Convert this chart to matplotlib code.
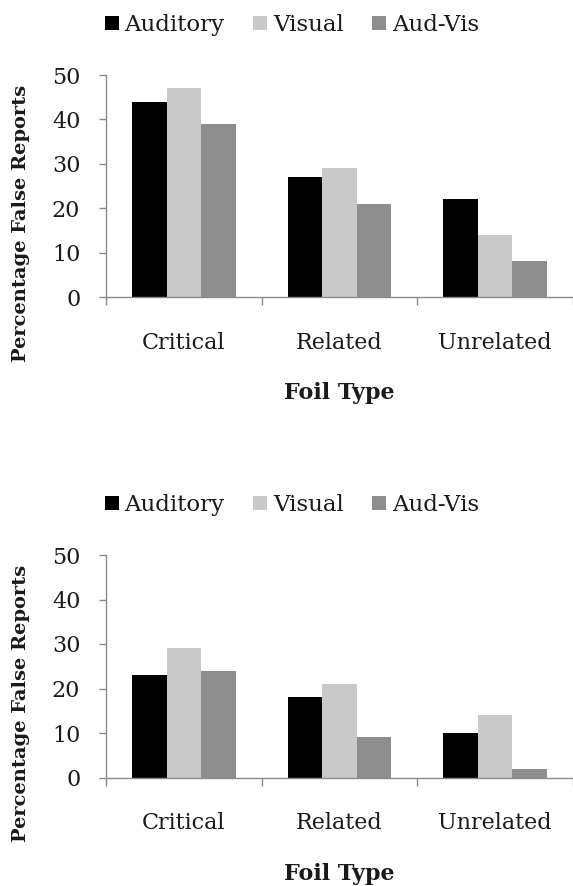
import matplotlib
matplotlib.use("Agg")
import matplotlib.pyplot as plt
import numpy as np
from matplotlib.patches import Patch

categories = ["Critical", "Related", "Unrelated"]
series_names = ["Auditory", "Visual", "Aud-Vis"]
top_auditory = [44, 27, 22]
top_visual = [47, 29, 14]
top_audvis = [39, 21, 8]
bottom_auditory = [23, 18, 10]
bottom_visual = [29, 21, 14]
bottom_audvis = [24, 9, 2]
yticks = [0, 10, 20, 30, 40, 50]
xlabel_text = "Foil Type"
ylabel_text = "Percentage False Reports"

colors = ["#000000", "#c9c9c9", "#8e8e8e"]
axis_color = "#8a8a8a"
text_color = "#1a1a1a"

plt.rcParams["font.family"] = ["DejaVu Serif"]
FS = 16
LFS = 16.5
YFS = 14

W, H = 573, 886
fig = plt.figure(figsize=(W / 100, H / 100), dpi=100)


def make_panel(ax_rect, data, legend_y):
    ax = fig.add_axes(ax_rect)
    x = np.arange(len(categories))
    bw = 0.222
    offsets = [-bw, 0, bw]
    for vals, off, col in zip(data, offsets, colors):
        ax.bar(x + off, vals, width=bw, color=col, edgecolor="none")
    ax.set_xlim(-0.5, len(categories) - 0.5)
    ax.set_ylim(0, 50)
    ax.set_yticks(yticks)
    ax.set_yticklabels([str(t) for t in yticks], fontsize=FS, color=text_color)
    ax.set_xticks(x)
    ax.set_xticklabels(categories, fontsize=FS, color=text_color)
    ax.set_xticks(np.arange(-0.5, len(categories)), minor=True)
    ax.tick_params(axis="x", which="major", length=0, pad=25)
    ax.tick_params(axis="x", which="minor", length=6, width=1.0, color=axis_color, direction="out")
    ax.tick_params(axis="y", which="major", length=5, width=1.0, color=axis_color, direction="out", pad=13.5)
    for s in ["top", "right"]:
        ax.spines[s].set_visible(False)
    for s in ["left", "bottom"]:
        ax.spines[s].set_color(axis_color)
        ax.spines[s].set_linewidth(1.0)
    ax.set_xlabel(xlabel_text, fontsize=FS, fontweight="bold", color=text_color)
    ax.xaxis.set_label_coords(0.5, -0.383)
    ax.set_ylabel(ylabel_text, fontsize=YFS, fontweight="bold", color=text_color, va="center")
    ax.yaxis.set_label_coords(-0.182, 0.331)
    handles = [Patch(facecolor=c, edgecolor="none") for c in colors]
    ax.legend(handles, series_names, loc="center", bbox_to_anchor=(292 / W, legend_y),
              bbox_transform=fig.transFigure, ncol=3, frameon=False, fontsize=LFS,
              handlelength=0.6, handleheight=0.6, handletextpad=0.25,
              columnspacing=1.26, labelcolor=text_color, borderaxespad=0, borderpad=0)
    return ax


left = 106 / W
width = (W - 106) / W
make_panel([left, 1 - 297 / H, width, 222 / H], [top_auditory, top_visual, top_audvis], 1 - 25 / H)
make_panel([left, 1 - 777.5 / H, width, 222.5 / H], [bottom_auditory, bottom_visual, bottom_audvis], 1 - 505 / H)

fig.savefig("out.png", dpi=100)
